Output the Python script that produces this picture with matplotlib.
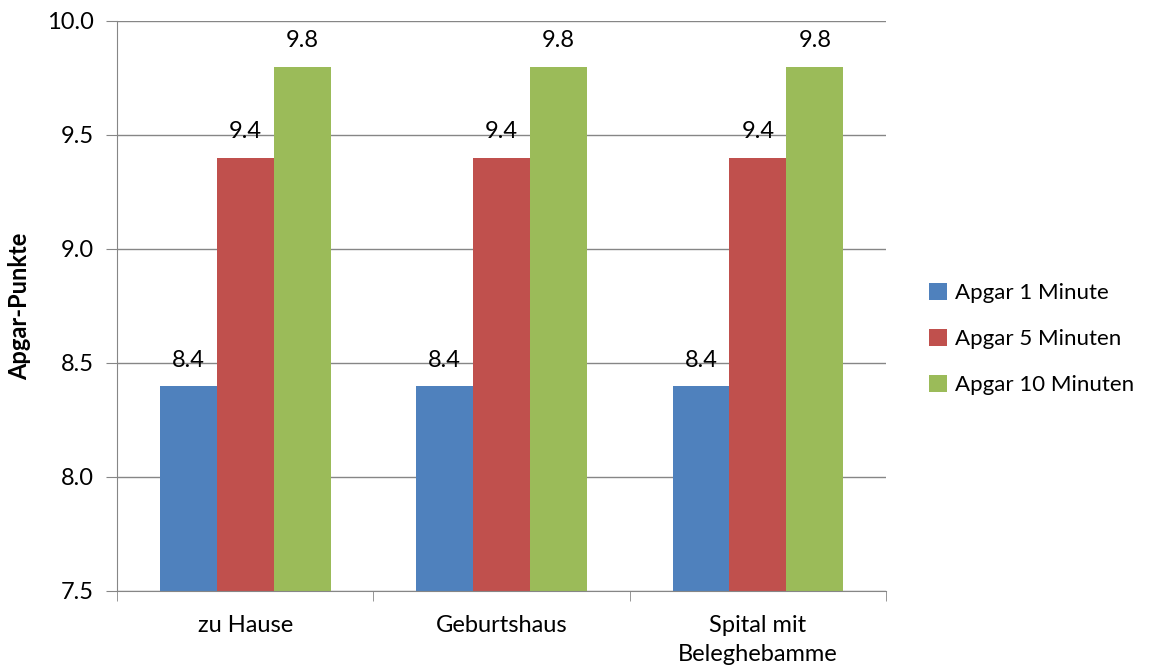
import numpy as np
import matplotlib.pyplot as plt

categories = ["zu Hause", "Geburtshaus", "Spital mit\nBeleghebamme"]
series = ["Apgar 1 Minute", "Apgar 5 Minuten", "Apgar 10 Minuten"]
values = [
    [8.4, 8.4, 8.4],   # Apgar 1 Minute
    [9.4, 9.4, 9.4],   # Apgar 5 Minuten
    [9.8, 9.8, 9.8],   # Apgar 10 Minuten
]
colors = ["#4F81BD", "#C0504D", "#9BBB59"]

plt.rcParams['font.family'] = ['Lato', 'DejaVu Sans']
fs = 17

fig = plt.figure(figsize=(11.53, 6.68), dpi=100)
ax = fig.add_axes([0.1015, 0.1153, 0.667, 0.8533])

x = np.arange(len(categories))
width = 0.222
grey = "#868686"

for i, (name, vals) in enumerate(zip(series, values)):
    pos = x + (i - 1) * width
    bars = ax.bar(pos, vals, width, color=colors[i], label=name, zorder=2)
    for b, v in zip(bars, vals):
        ax.annotate(f"{v:.1f}", (b.get_x() + b.get_width() / 2, v),
                    xytext=(0, 11), textcoords="offset points",
                    ha="center", va="bottom", fontsize=fs)

ax.set_xlim(-0.5, len(categories) - 0.5)
ax.set_ylim(7.5, 10.0)
ax.set_yticks(np.arange(7.5, 10.01, 0.5))
ax.set_yticklabels([f"{t:.1f}" for t in np.arange(7.5, 10.01, 0.5)], fontsize=fs)
ax.set_xticks(x)
ax.set_xticklabels(categories, fontsize=fs, linespacing=1.5)
ax.set_xticks(np.arange(-0.5, len(categories)), minor=True)
ax.tick_params(axis='x', which='major', length=0, pad=17)
ax.tick_params(axis='x', which='minor', length=7, color=grey, direction='out')
ax.tick_params(axis='y', length=8, color=grey, pad=9)

ax.grid(axis='y', color=grey, linewidth=1, zorder=0)
for s in ["top", "right"]:
    ax.spines[s].set_visible(False)
ax.spines["left"].set_color(grey)
ax.spines["bottom"].set_color(grey)

ax.set_ylabel("Apgar-Punkte", fontsize=fs, fontweight="bold", labelpad=11)

ax.legend(loc="center left", bbox_to_anchor=(1.03, 0.442), frameon=False,
          fontsize=16, handlelength=0.8, handleheight=0.8, handletextpad=0.35,
          labelspacing=1.15)

fig.savefig("out.png", dpi=100)
